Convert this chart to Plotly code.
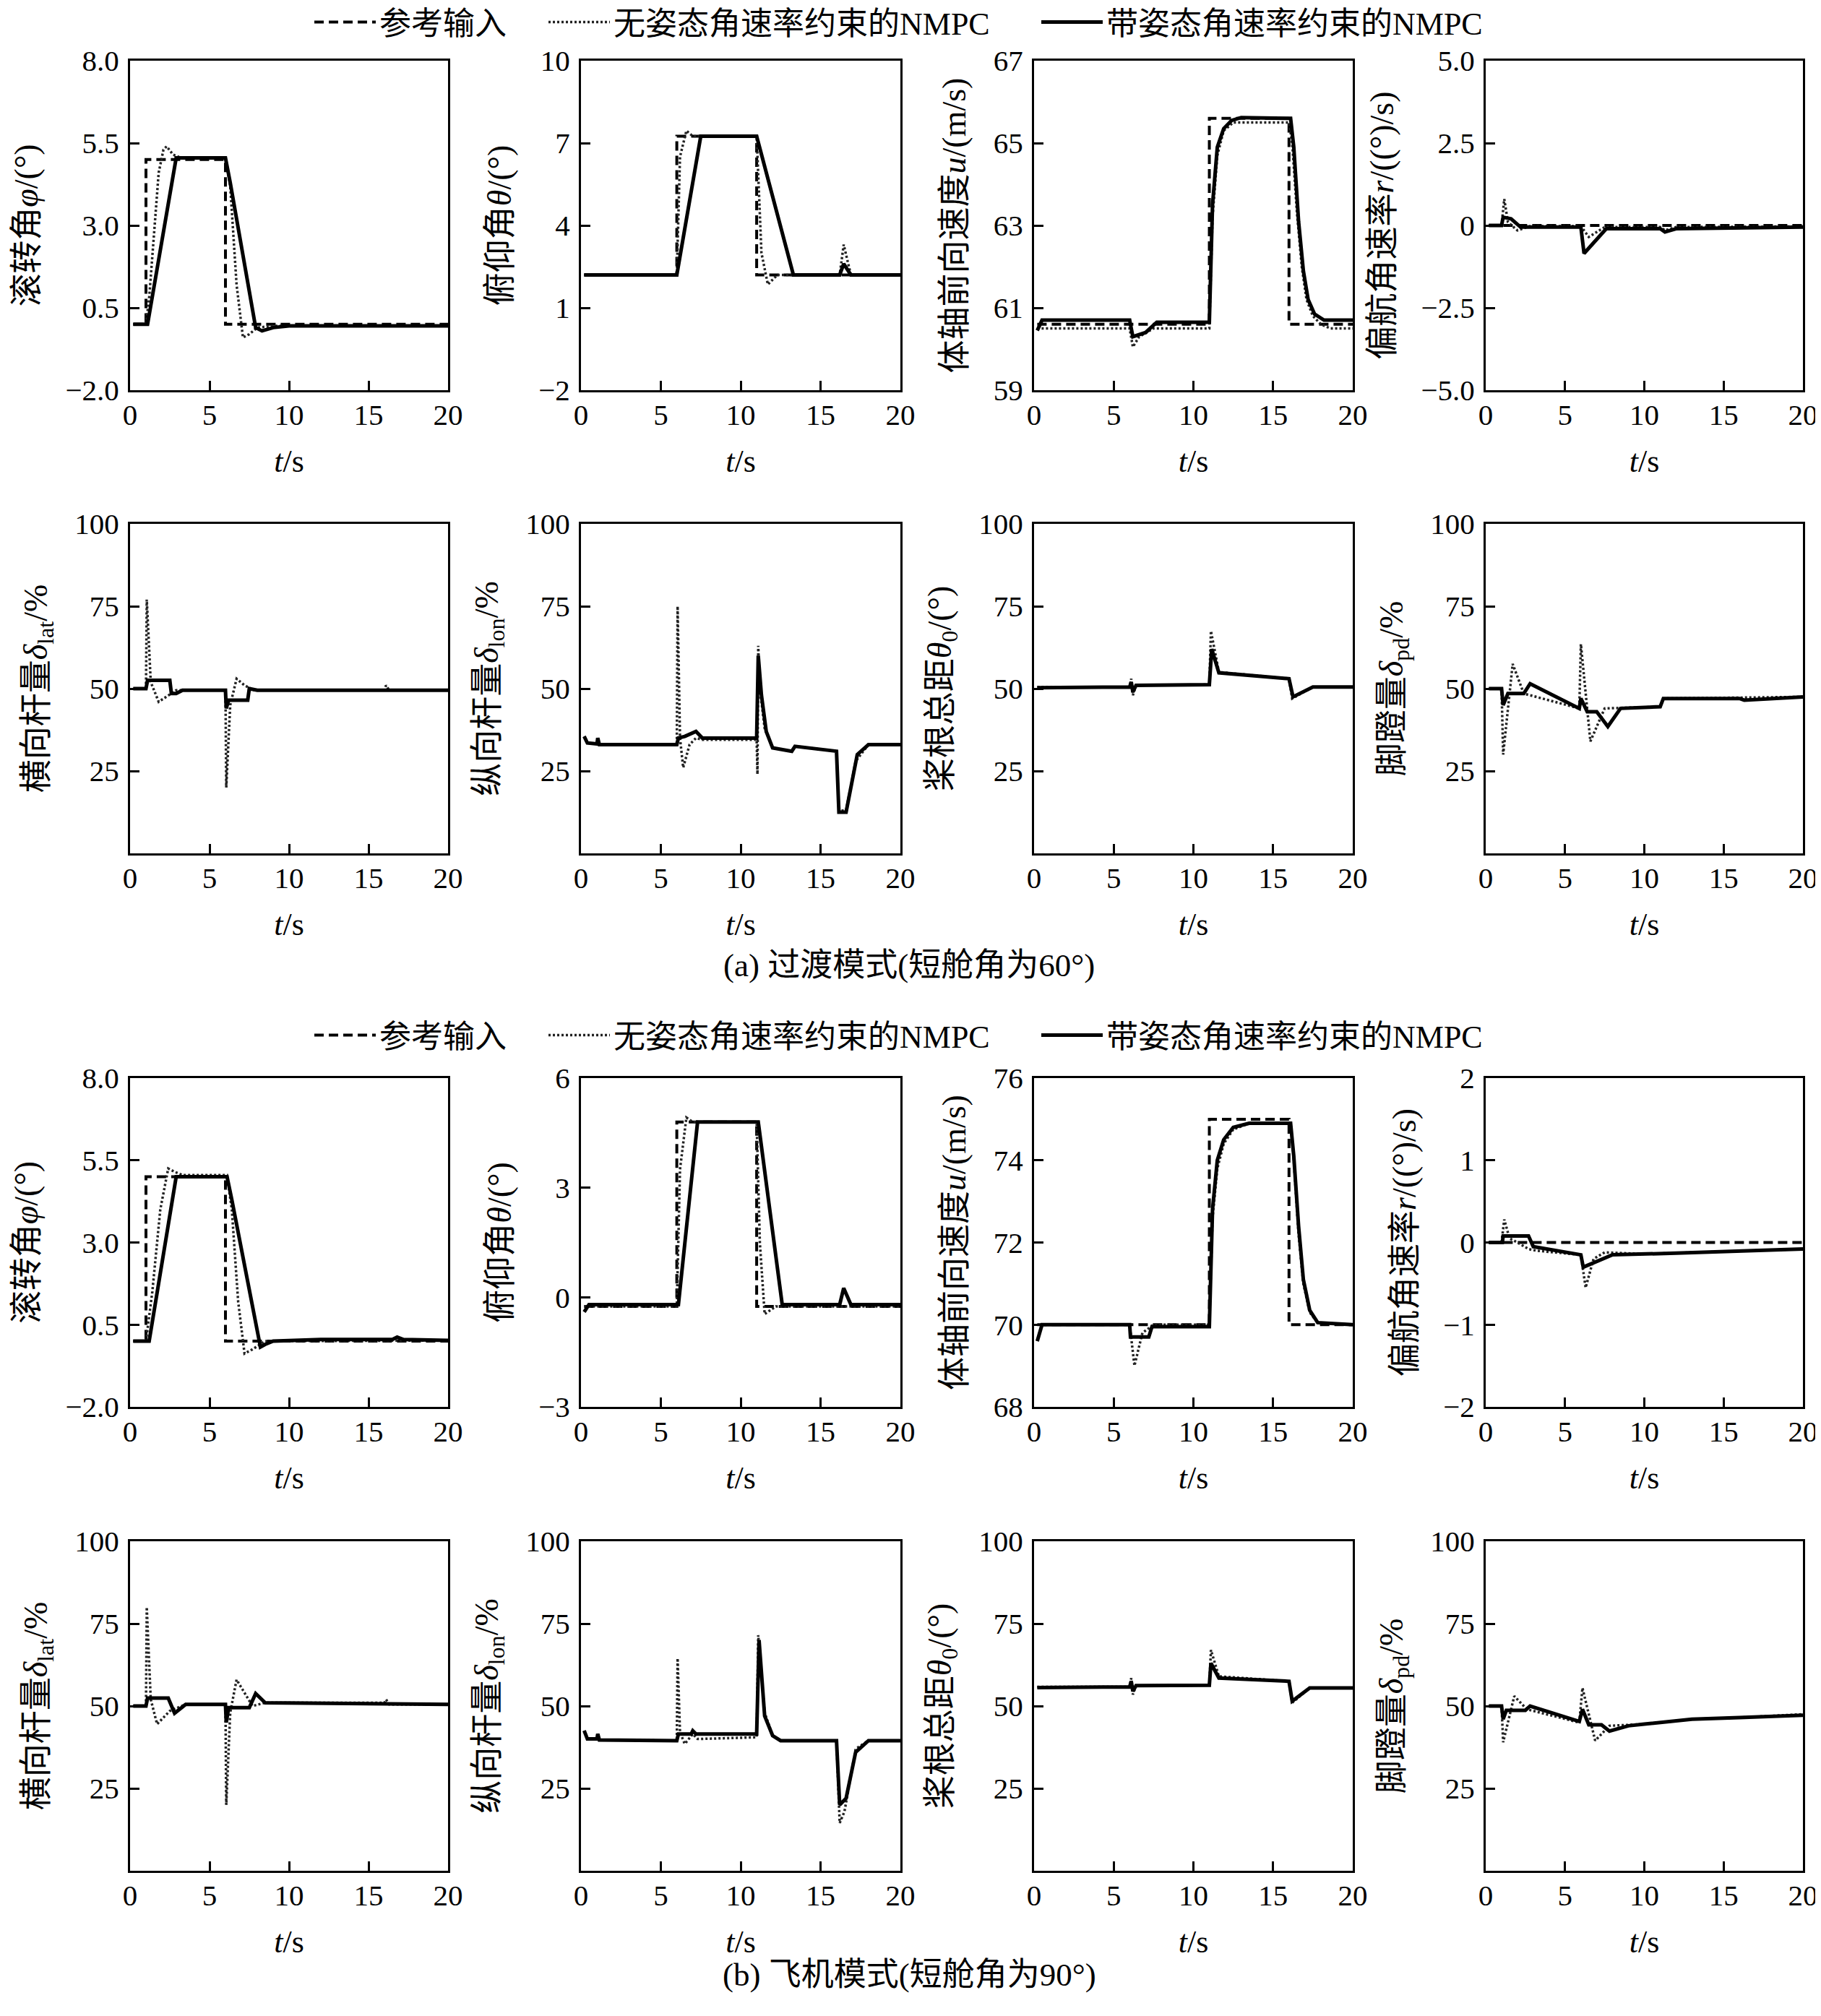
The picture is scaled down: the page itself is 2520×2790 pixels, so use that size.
import plotly.graph_objects as go

# ---------------- data ----------------
# (a) transition mode, row 1
phi_a_ref_t = [0.2, 1.0, 1.0, 6.0, 6.0, 20]
phi_a_ref = [0, 0, 5.0, 5.0, 0, 0]
phi_a_nc_t = [0.2, 1.0, 1.2, 1.5, 1.8, 2.1, 2.3, 2.7, 3.2, 6.0, 6.3, 6.7, 7.1, 7.5, 8.0, 9.0, 20]
phi_a_nc = [0, 0, 0.8, 2.8, 4.6, 5.3, 5.4, 5.15, 5.05, 5.05, 4.2, 1.2, -0.4, -0.3, -0.1, -0.05, -0.05]
phi_a_wc_t = [0.2, 1.1, 2.9, 6.0, 6.3, 7.9, 8.3, 9.0, 10.0, 20]
phi_a_wc = [0, 0, 5.05, 5.05, 4.3, -0.1, -0.2, -0.1, -0.05, -0.05]

th_a_ref_t = [0.2, 6.0, 6.0, 11.0, 11.0, 20]
th_a_ref = [2.2, 2.2, 7.25, 7.25, 2.2, 2.2]
th_a_nc_t = [0.2, 6.0, 6.2, 6.6, 7.0, 11.0, 11.3, 11.7, 12.3, 16.2, 16.45, 16.9, 20]
th_a_nc = [2.2, 2.2, 6.5, 7.45, 7.25, 7.25, 3.0, 1.85, 2.2, 2.2, 3.3, 2.2, 2.2]
th_a_wc_t = [0.2, 6.0, 7.5, 11.0, 13.3, 16.2, 16.45, 16.9, 20]
th_a_wc = [2.2, 2.2, 7.25, 7.25, 2.2, 2.2, 2.6, 2.2, 2.2]

u_a_ref_t = [0.2, 11.0, 11.0, 16.0, 16.0, 20]
u_a_ref = [60.6, 60.6, 65.6, 65.6, 60.6, 60.6]
u_a_nc_t = [0.2, 6.0, 6.2, 6.6, 7.5, 11.0, 11.2, 11.5, 11.9, 12.5, 16.0, 16.2, 16.5, 16.8, 17.1,
            17.5, 18.0, 18.6, 20]
u_a_nc = [60.5, 60.5, 60.05, 60.3, 60.5, 60.5, 63.2, 64.7, 65.3, 65.5, 65.5, 65.0, 63.3, 62.0, 61.2,
          60.8, 60.6, 60.5, 60.5]
u_a_wc_t = [0.2, 0.5, 6.0, 6.2, 7.0, 7.7, 11.0, 11.2, 11.5, 11.9, 12.4, 13.0, 16.1, 16.3, 16.6,
            16.9, 17.2, 17.6, 18.2, 20]
u_a_wc = [60.45, 60.7, 60.7, 60.3, 60.4, 60.65, 60.65, 63.5, 64.9, 65.35, 65.55, 65.62, 65.6, 64.9,
          63.1, 61.9, 61.2, 60.85, 60.7, 60.7]

r_a_ref_t = [0.2, 20]
r_a_ref = [0, 0]
r_a_nc_t = [0.2, 1.0, 1.17, 1.4, 2.0, 2.8, 6.0, 6.5, 7.5, 11.0, 11.3, 12.0, 20]
r_a_nc = [0, 0, 0.8, 0.1, -0.15, -0.02, -0.02, -0.35, -0.05, -0.05, -0.15, -0.05, -0.03]
r_a_wc_t = [0.2, 1.0, 1.1, 1.6, 2.2, 6.0, 6.2, 7.6, 11.0, 11.3, 12.0, 20]
r_a_wc = [0, 0, 0.25, 0.2, -0.05, -0.05, -0.85, -0.1, -0.1, -0.2, -0.1, -0.05]

# (a) row 2, control inputs
lat_a_nc_t = [0.2, 1.0, 1.05, 1.3, 1.8, 2.4, 2.9, 6.0, 6.05, 6.3, 6.7, 7.2, 7.8, 16.0, 16.1, 16.3, 20]
lat_a_nc = [50, 50, 77, 52, 46, 48, 49.5, 49.5, 20, 45, 53, 51, 49.5, 49.5, 51, 49.5, 49.5]
lat_a_wc_t = [0.2, 1.0, 1.1, 2.5, 2.6, 2.9, 3.3, 6.0, 6.05, 6.2, 7.4, 7.5, 8.0, 20]
lat_a_wc = [50, 50, 52.5, 52.5, 48.5, 48.5, 49.5, 49.5, 44, 46.5, 46.5, 50, 49.5, 49.5]

lon_a_nc_t = [0.2, 0.4, 1.0, 1.05, 1.15, 6.0, 6.05, 6.2, 6.4, 6.8, 7.2, 7.6, 11.0, 11.05, 11.1, 11.2,
              11.5, 12.0, 13.2, 13.4, 16.0, 16.15, 16.6, 17.2, 18.0, 20]
lon_a_nc = [35.5, 33.5, 33.2, 35, 33, 33, 75, 35, 26, 33, 35, 34.5, 34.5, 24, 63, 50,
            38, 32, 31, 32.5, 31, 13, 13, 28, 33, 33]
lon_a_wc_t = [0.2, 0.4, 1.0, 1.05, 1.15, 6.0, 6.1, 6.5, 7.2, 7.6, 11.0, 11.1, 11.3, 11.6, 12.0,
              13.2, 13.4, 16.0, 16.15, 16.6, 17.3, 18.0, 20]
lon_a_wc = [35.5, 33.5, 33.2, 35, 33, 33, 35, 35.5, 37, 35, 35, 60, 48, 37, 32,
            31, 32.5, 31, 12.5, 12.5, 30, 33, 33]

col_a_nc_t = [0.2, 6.0, 6.1, 6.2, 6.4, 11.0, 11.1, 11.6, 16.0, 16.2, 17.5, 20]
col_a_nc = [50.5, 50.5, 53, 48, 51, 51.2, 67.5, 55, 53, 47, 50.5, 50.5]
col_a_wc_t = [0.2, 6.0, 6.1, 6.2, 6.4, 11.0, 11.15, 11.6, 16.0, 16.25, 17.5, 20]
col_a_wc = [50.3, 50.5, 52, 49, 51, 51.2, 62, 54.8, 53, 47.5, 50.5, 50.5]

pd_a_nc_t = [0.2, 1.0, 1.1, 1.7, 2.4, 5.9, 6.0, 6.6, 7.5, 11.0, 11.2, 20]
pd_a_nc = [50, 50, 30, 57.5, 48.5, 44, 63.5, 34, 44, 44.5, 47, 47.5]
pd_a_wc_t = [0.2, 1.0, 1.1, 1.4, 2.4, 2.8, 5.9, 6.0, 6.4, 7.0, 7.7, 8.5, 11.0, 11.2, 16.0, 16.3, 20]
pd_a_wc = [50, 50, 45, 48.5, 48.5, 51.5, 44, 47, 43, 43, 38.5, 44, 44.5, 47, 47, 46.5, 47.5]

# (b) airplane mode, row 3
phi_b_ref_t = [0.2, 1.0, 1.0, 6.0, 6.0, 20]
phi_b_ref = [0, 0, 5.0, 5.0, 0, 0]
phi_b_nc_t = [0.2, 1.0, 1.4, 1.9, 2.4, 2.8, 3.3, 6.1, 6.4, 6.8, 7.2, 7.7, 8.5, 20]
phi_b_nc = [0, 0, 1.5, 4.0, 5.25, 5.15, 5.05, 5.05, 4.0, 1.2, -0.38, -0.25, 0, 0.02]
phi_b_wc_t = [0.2, 1.2, 2.9, 6.1, 6.4, 8.2, 8.5, 9.0, 12.0, 16.5, 16.8, 17.2, 20]
phi_b_wc = [0, 0, 5.0, 5.0, 4.3, -0.18, -0.1, 0, 0.05, 0.05, 0.12, 0.05, 0.02]

th_b_ref_t = [0.2, 6.0, 6.0, 11.0, 11.0, 20]
th_b_ref = [-0.25, -0.25, 4.8, 4.8, -0.25, -0.25]
th_b_nc_t = [0.2, 6.0, 6.2, 6.6, 7.0, 11.0, 11.2, 11.5, 12.2, 20]
th_b_nc = [-0.25, -0.25, 3.5, 4.92, 4.8, 4.8, 1.5, -0.46, -0.25, -0.25]
th_b_wc_t = [0.2, 0.5, 6.1, 7.3, 11.1, 12.6, 16.2, 16.45, 16.9, 20]
th_b_wc = [-0.4, -0.2, -0.2, 4.8, 4.8, -0.2, -0.2, 0.25, -0.2, -0.2]

u_b_ref_t = [0.2, 11.0, 11.0, 16.0, 16.0, 20]
u_b_ref = [70, 70, 75, 75, 70, 70]
u_b_nc_t = [0.2, 0.5, 6.0, 6.3, 6.8, 7.5, 11.0, 11.2, 11.5, 11.9, 12.5, 13.5, 16.1, 16.3, 16.6,
            16.9, 17.3, 17.8, 20]
u_b_nc = [69.6, 70, 70, 69.0, 69.8, 70, 70, 72.6, 73.8, 74.4, 74.75, 74.9, 74.9, 74.0, 72.2,
          71.0, 70.3, 70.05, 70]
u_b_wc_t = [0.2, 0.5, 6.0, 6.05, 7.2, 7.4, 11.0, 11.2, 11.5, 11.9, 12.5, 13.5, 16.1, 16.3, 16.6,
            16.9, 17.3, 17.8, 20]
u_b_wc = [69.6, 70, 70, 69.7, 69.7, 69.95, 69.95, 72.8, 74.0, 74.5, 74.8, 74.9, 74.9, 74.1, 72.4,
          71.1, 70.35, 70.05, 70]

r_b_ref_t = [0.2, 20]
r_b_ref = [0, 0]
r_b_nc_t = [0.2, 1.0, 1.17, 1.5, 2.0, 2.7, 3.2, 6.0, 6.3, 6.8, 7.5, 10.0, 20]
r_b_nc = [0, 0, 0.28, 0.05, 0.0, -0.08, -0.1, -0.15, -0.55, -0.2, -0.12, -0.14, -0.08]
r_b_wc_t = [0.2, 1.05, 1.1, 2.7, 3.0, 6.0, 6.15, 8.0, 12.0, 20]
r_b_wc = [0, 0, 0.08, 0.08, -0.05, -0.15, -0.3, -0.15, -0.13, -0.08]

# (b) row 4, control inputs
lat_b_nc_t = [0.2, 1.0, 1.05, 1.3, 1.7, 2.5, 3.5, 6.0, 6.05, 6.3, 6.7, 7.7, 8.5, 16.0, 16.1, 16.3, 20]
lat_b_nc = [50, 50, 80, 52, 44.5, 48.5, 50.5, 50.5, 20, 48, 58, 50, 51, 51, 52, 50.5, 50.5]
lat_b_wc_t = [0.2, 1.0, 1.1, 2.4, 2.8, 3.5, 6.0, 6.05, 6.2, 7.5, 7.9, 8.5, 20]
lat_b_wc = [50, 50, 52.4, 52.4, 47.8, 50.5, 50.5, 45, 49.5, 49.5, 53.8, 51, 50.5]

lon_b_nc_t = [0.2, 0.4, 1.0, 1.05, 1.15, 6.0, 6.05, 6.2, 6.5, 7.0, 7.3, 11.0, 11.1, 11.5, 12.0,
              12.5, 16.0, 16.2, 16.5, 17.2, 18.0, 20]
lon_b_nc = [42.5, 40, 40, 41.5, 39.7, 39.5, 64.5, 42, 38.5, 41.5, 40, 40.5, 71.5, 48, 41,
            39.5, 39.5, 14.5, 18, 37, 39.5, 39.5]
lon_b_wc_t = [0.2, 0.4, 1.0, 1.05, 1.15, 6.0, 6.1, 6.9, 7.0, 7.2, 11.0, 11.15, 11.5, 12.0, 12.5,
              16.0, 16.2, 16.6, 17.2, 18.0, 20]
lon_b_wc = [42.5, 40, 40, 41.5, 39.7, 39.5, 41.5, 41.5, 42.5, 41.5, 41.5, 70, 47, 41, 39.5,
            39.5, 20, 22, 36, 39.5, 39.5]

col_b_nc_t = [0.2, 6.0, 6.1, 6.2, 6.4, 11.0, 11.1, 11.6, 16.0, 16.2, 17.3, 20]
col_b_nc = [55.8, 55.8, 58.5, 53.5, 56.2, 56.3, 67, 59, 57.5, 51, 55.5, 55.5]
col_b_wc_t = [0.2, 6.0, 6.1, 6.2, 6.4, 11.0, 11.1, 11.6, 16.0, 16.2, 17.3, 20]
col_b_wc = [55.6, 55.8, 57.5, 54.5, 56.2, 56.3, 63, 58.5, 57.5, 51.5, 55.5, 55.5]

pd_b_nc_t = [0.2, 1.0, 1.1, 1.8, 2.6, 5.9, 6.1, 6.9, 7.8, 10.0, 13.0, 16.0, 20]
pd_b_nc = [50, 50, 39, 53, 49, 45, 55.5, 39.5, 44, 44.5, 46, 46.5, 47.5]
pd_b_wc_t = [0.2, 1.0, 1.1, 1.3, 2.5, 2.8, 5.9, 6.1, 6.5, 7.3, 7.8, 9.0, 10.0, 13.0, 16.0, 20]
pd_b_wc = [50, 50, 46, 48.7, 48.7, 50, 45.3, 49, 44.3, 44.3, 42.4, 44, 44.5, 46, 46.5, 47.2]

# series names
names = ["参考输入", "无姿态角速率约束的NMPC", "带姿态角速率约束的NMPC"]

# axis titles, ranges, tick labels
ylabels = [
    "滚转角<i>φ</i>/(°)", "俯仰角<i>θ</i>/(°)", "体轴前向速度<i>u</i>/(m/s)", "偏航角速率<i>r</i>/((°)/s)",
    "横向杆量<i>δ</i><sub>lat</sub>/%", "纵向杆量<i>δ</i><sub>lon</sub>/%",
    "桨根总距<i>θ</i><sub>0</sub>/(°)", "脚蹬量<i>δ</i><sub>pd</sub>/%",
]
ctrl_ticks = [25, 50, 75, 100]
ctrl_text = ["25", "50", "75", "100"]
yticks = {
    1: ([-2, 0.5, 3, 5.5, 8], ["−2.0", "0.5", "3.0", "5.5", "8.0"]),
    2: ([-2, 1, 4, 7, 10], ["−2", "1", "4", "7", "10"]),
    3: ([59, 61, 63, 65, 67], ["59", "61", "63", "65", "67"]),
    4: ([-5, -2.5, 0, 2.5, 5], ["−5.0", "−2.5", "0", "2.5", "5.0"]),
    9: ([-2, 0.5, 3, 5.5, 8], ["−2.0", "0.5", "3.0", "5.5", "8.0"]),
    10: ([-3, 0, 3, 6], ["−3", "0", "3", "6"]),
    11: ([68, 70, 72, 74, 76], ["68", "70", "72", "74", "76"]),
    12: ([-2, -1, 0, 1, 2], ["−2", "−1", "0", "1", "2"]),
}
yranges = {1: [-2, 8], 2: [-2, 10], 3: [59, 67], 4: [-5, 5],
           9: [-2, 8], 10: [-3, 6], 11: [68, 76], 12: [-2, 2]}

panels = [
    [(phi_a_ref_t, phi_a_ref), (phi_a_nc_t, phi_a_nc), (phi_a_wc_t, phi_a_wc)],
    [(th_a_ref_t, th_a_ref), (th_a_nc_t, th_a_nc), (th_a_wc_t, th_a_wc)],
    [(u_a_ref_t, u_a_ref), (u_a_nc_t, u_a_nc), (u_a_wc_t, u_a_wc)],
    [(r_a_ref_t, r_a_ref), (r_a_nc_t, r_a_nc), (r_a_wc_t, r_a_wc)],
    [None, (lat_a_nc_t, lat_a_nc), (lat_a_wc_t, lat_a_wc)],
    [None, (lon_a_nc_t, lon_a_nc), (lon_a_wc_t, lon_a_wc)],
    [None, (col_a_nc_t, col_a_nc), (col_a_wc_t, col_a_wc)],
    [None, (pd_a_nc_t, pd_a_nc), (pd_a_wc_t, pd_a_wc)],
    [(phi_b_ref_t, phi_b_ref), (phi_b_nc_t, phi_b_nc), (phi_b_wc_t, phi_b_wc)],
    [(th_b_ref_t, th_b_ref), (th_b_nc_t, th_b_nc), (th_b_wc_t, th_b_wc)],
    [(u_b_ref_t, u_b_ref), (u_b_nc_t, u_b_nc), (u_b_wc_t, u_b_wc)],
    [(r_b_ref_t, r_b_ref), (r_b_nc_t, r_b_nc), (r_b_wc_t, r_b_wc)],
    [None, (lat_b_nc_t, lat_b_nc), (lat_b_wc_t, lat_b_wc)],
    [None, (lon_b_nc_t, lon_b_nc), (lon_b_wc_t, lon_b_wc)],
    [None, (col_b_nc_t, col_b_nc), (col_b_wc_t, col_b_wc)],
    [None, (pd_b_nc_t, pd_b_nc), (pd_b_wc_t, pd_b_wc)],
]

# ---------------- figure ----------------
FONT = "Liberation Serif, Times New Roman, Noto Sans CJK SC"
PAGE_W, PAGE_H = 2520, 2790
OFF = 8  # the page body keeps an 8 px margin around the plot
W, H = PAGE_W - OFF, PAGE_H - 2 * OFF


def px_x(p):
    return (p - OFF) / W


def px_y(p):
    return 1 - (p - OFF) / H


# plot areas in page pixels, measured on the reference
col_px = [(180, 620), (804, 1246), (1431, 1872), (2056, 2495)]
row_px = [(84, 540), (725, 1181), (1492, 1947), (2133, 2589)]
col_dom = [(px_x(a), px_x(b)) for a, b in col_px]
row_dom = [(px_y(b), px_y(a)) for a, b in row_px]

styles = [dict(color="black", width=4, dash="13px,7px"),
          dict(color="#222222", width=3.5, dash="3px,3px"),
          dict(color="black", width=5)]

# one legend per entry so each can sit where the reference puts it
legend_x = [430, 754, 1436]
legend_y = [31, 1433]

fig = go.Figure()
layout = {}
for i, series in enumerate(panels):
    n = i + 1
    r, c = divmod(i, 4)
    xa = "x" if n == 1 else "x%d" % n
    ya = "y" if n == 1 else "y%d" % n
    for k, s in enumerate(series):
        if s is None:
            continue
        grp = 0 if i < 8 else 1
        leg_id = grp * 3 + k + 1
        fig.add_trace(go.Scatter(
            x=s[0], y=s[1], mode="lines", line=styles[k], name=names[k],
            xaxis=xa, yaxis=ya, legend="legend" if leg_id == 1 else "legend%d" % leg_id,
            showlegend=(i in (0, 8)),
        ))
    axis_common = dict(
        showline=True, mirror=True, linecolor="black", linewidth=3,
        ticks="inside", ticklen=13, tickwidth=2.5, tickcolor="black",
        showgrid=False, zeroline=False, tickfont=dict(family=FONT, size=41, color="black"),
        ticklabeloverflow="allow",
    )
    layout["xaxis" if n == 1 else "xaxis%d" % n] = dict(
        axis_common, domain=list(col_dom[c]), anchor=ya, range=[0, 20],
        tickvals=[0, 5, 10, 15, 20], ticklabelstandoff=-4,
        title=dict(text="<i>t</i>/s", font=dict(family=FONT, size=44, color="black"), standoff=26),
    )
    if r in (1, 3):
        yr, tv, tt = [0, 100], ctrl_ticks, ctrl_text
    else:
        yr = yranges[n]
        tv, tt = yticks[n]
    layout["yaxis" if n == 1 else "yaxis%d" % n] = dict(
        axis_common, domain=list(row_dom[r]), anchor=xa, range=yr,
        tickvals=tv, ticktext=tt, ticklabelstandoff=4,
        title=dict(text=ylabels[(r % 2) * 4 + c], font=dict(family=FONT, size=46, color="black"), standoff=24),
    )

for g in range(2):
    for k in range(3):
        leg_id = g * 3 + k + 1
        layout["legend" if leg_id == 1 else "legend%d" % leg_id] = dict(
            orientation="h", xanchor="left", yanchor="middle",
            x=px_x(legend_x[k]), y=px_y(legend_y[g]),
            font=dict(family=FONT, size=44, color="black"), bgcolor="rgba(0,0,0,0)",
            itemwidth=85, borderwidth=0,
        )

fig.update_layout(
    layout,
    width=W, height=H, autosize=False,
    margin=dict(l=0, r=0, t=0, b=0, autoexpand=False),
    paper_bgcolor="white", plot_bgcolor="white",
    font=dict(family=FONT, size=40, color="black"),
    annotations=[
        dict(text="(a) 过渡模式(短舱角为60°)", x=px_x(1258), y=px_y(1336), xref="paper", yref="paper",
             showarrow=False, font=dict(family=FONT, size=45, color="black")),
        dict(text="(b) 飞机模式(短舱角为90°)", x=px_x(1258), y=px_y(2760), xref="paper", yref="paper",
             showarrow=False, font=dict(family=FONT, size=45, color="black")),
    ],
)

fig.write_html("out.html")
